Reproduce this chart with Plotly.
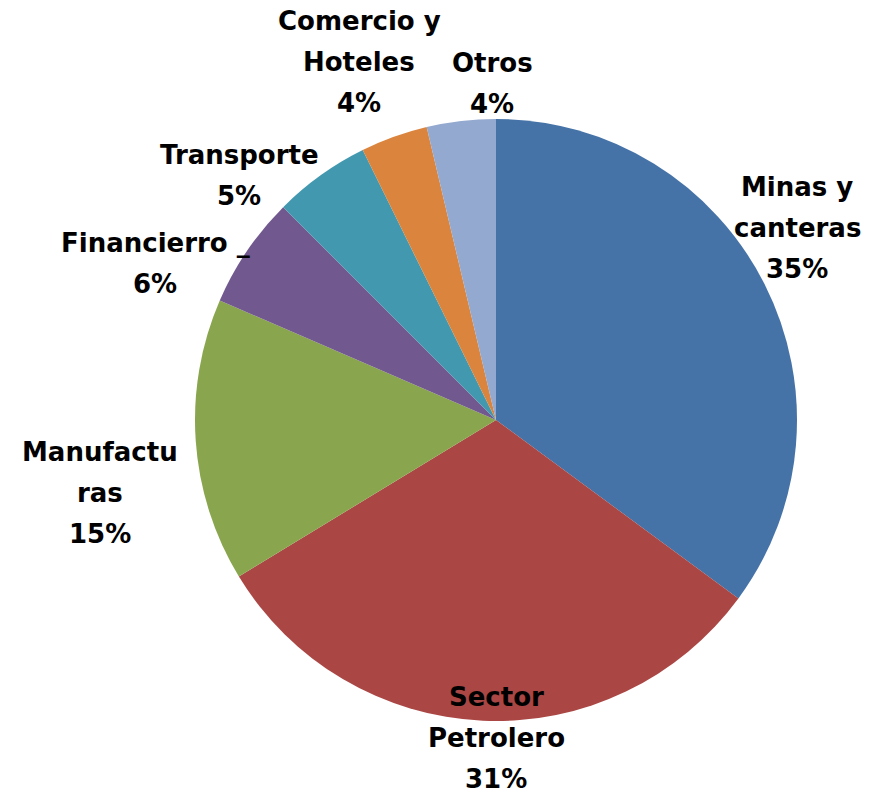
import plotly.graph_objects as go

# data
sectores = ["Minas y canteras", "Sector Petrolero", "Manufacturas", "Financierro",
            "Transporte", "Comercio y Hoteles", "Otros"]
valores = [35.1, 31.2, 15.2, 6.0, 5.2, 3.6, 3.7]
etiquetas = [["Minas y", "canteras"], ["Sector", "Petrolero"], ["Manufactu", "ras"],
             ["Financierro _"], ["Transporte"], ["Comercio y", "Hoteles"], ["Otros"]]
colores = ["#4572A7", "#AA4643", "#89A54E", "#71588F", "#4198AF", "#DB843D", "#93A9CF"]

W, H = 875, 795
off = 8  # page margin of the html body
cx, cy, r = 496 - off, 420 - off, 301

# where each label block sits (pixel centre of its first line)
pos_etiquetas = [(797, 187), (496, 697), (100, 452), (155, 243),
                 (239, 155), (359, 21), (492, 63)]
salto = 41

fig = go.Figure(go.Pie(
    labels=sectores, values=valores, sort=False, direction="clockwise",
    rotation=0, marker=dict(colors=colores, line=dict(width=0)),
    textinfo="none", hoverinfo="label+percent",
    domain=dict(x=[(cx - r) / W, (cx + r) / W], y=[1 - (cy + r) / H, 1 - (cy - r) / H]),
))

total = sum(valores)
anots = []
for lineas, v, (px, py) in zip(etiquetas, valores, pos_etiquetas):
    texto = lineas + [f"{round(100 * v / total)}%"]
    for i, t in enumerate(texto):
        anots.append(dict(x=(px - off) / W, y=1 - (py - off + i * salto) / H,
                          xref="paper", yref="paper",
                          text=t, showarrow=False, xanchor="center", yanchor="middle",
                          font=dict(family="DejaVu Sans", size=26, color="black", weight="bold")))

fig.update_layout(width=W, height=H, margin=dict(l=0, r=0, t=0, b=0),
                  paper_bgcolor="white", showlegend=False, annotations=anots)
fig.write_html("out.html")
